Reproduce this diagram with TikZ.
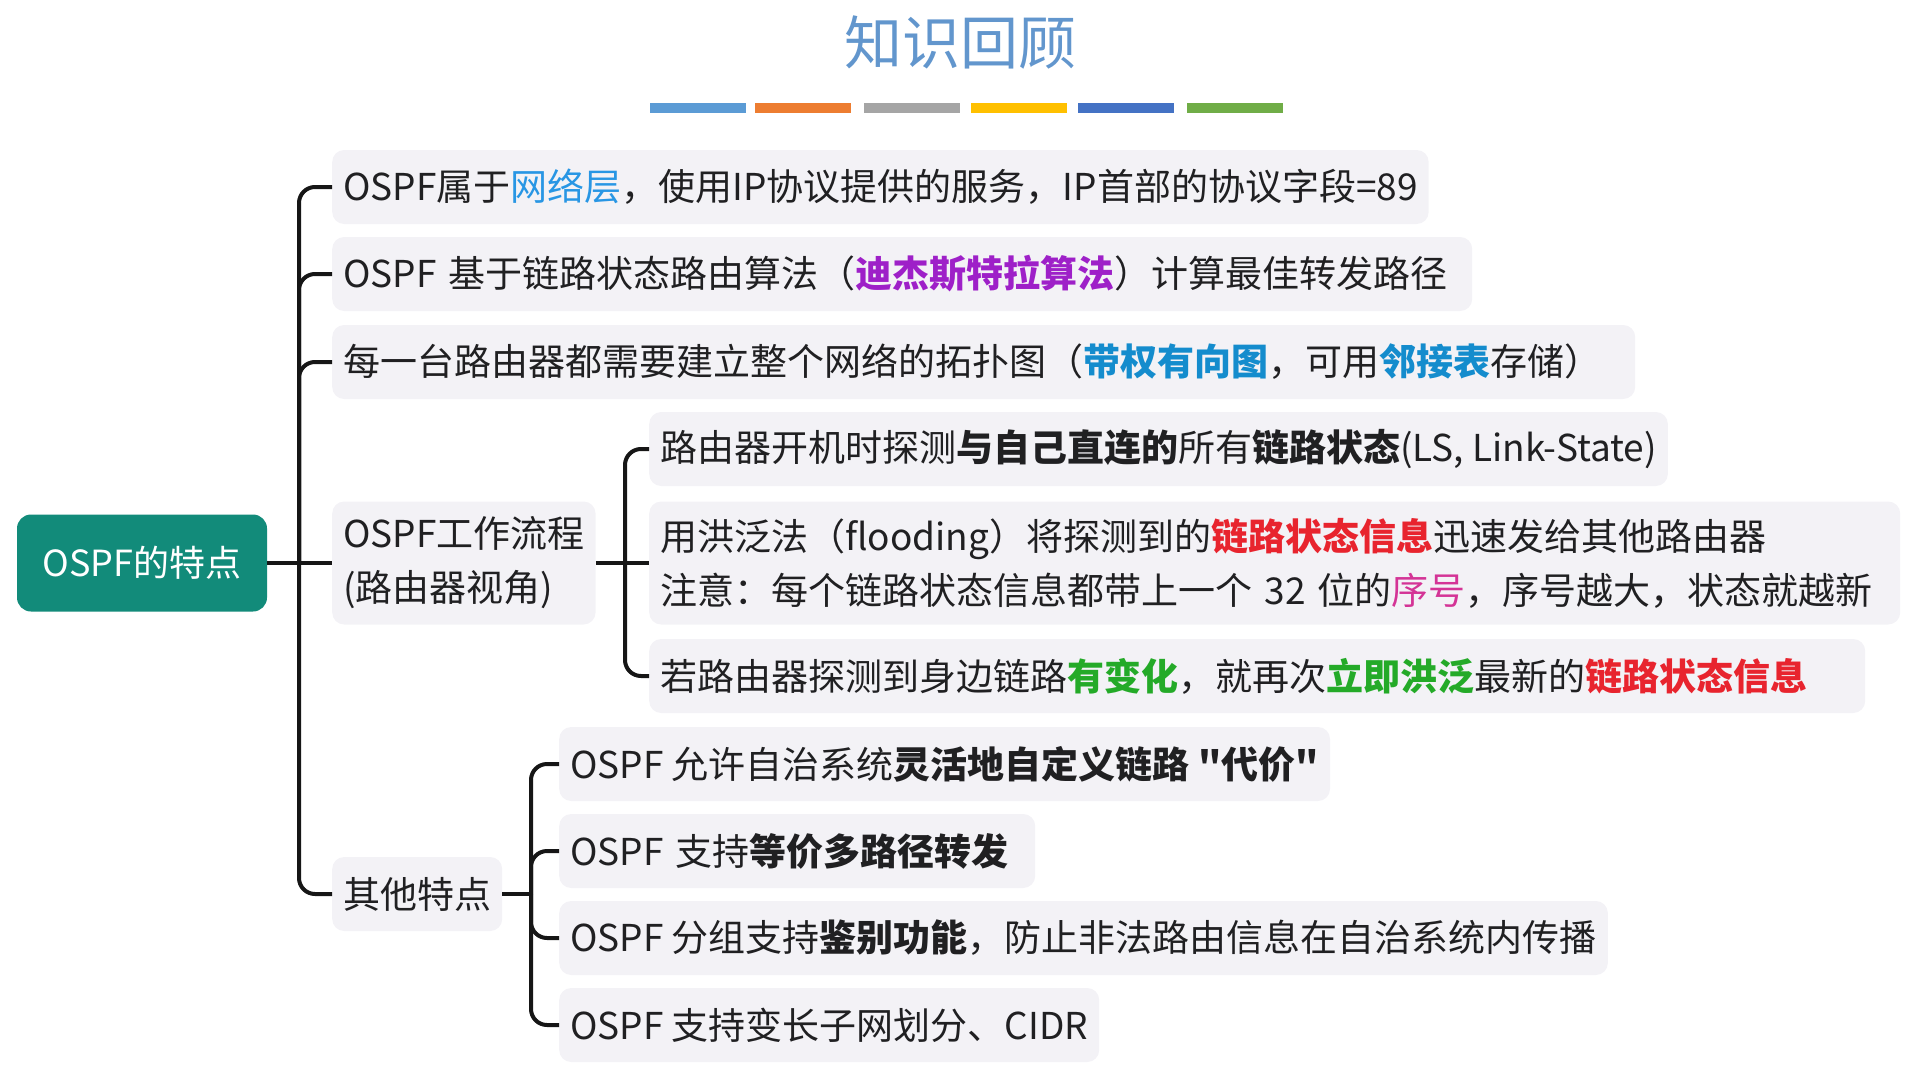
\documentclass[tikz,border=0pt]{standalone}
\usepackage{fontspec}
\setmainfont{Noto Sans CJK SC}[Ligatures=TeXOff]
\usetikzlibrary{positioning}

\definecolor{rootgreen}{RGB}{18,139,122}
\definecolor{boxgray}{RGB}{243,242,246}
\definecolor{textdark}{RGB}{32,32,34}
\definecolor{linedark}{RGB}{22,22,22}
\definecolor{titleblue}{RGB}{98,150,205}
\definecolor{netblue}{RGB}{40,150,228}
\definecolor{algpurple}{RGB}{158,32,200}
\definecolor{graphblue}{RGB}{20,140,205}
\definecolor{infored}{RGB}{232,36,46}
\definecolor{seqpink}{RGB}{212,52,150}
\definecolor{changegreen}{RGB}{36,170,40}
\definecolor{barA}{RGB}{91,155,213}
\definecolor{barB}{RGB}{237,125,49}
\definecolor{barC}{RGB}{165,165,165}
\definecolor{barD}{RGB}{255,192,0}
\definecolor{barE}{RGB}{68,114,196}
\definecolor{barF}{RGB}{112,173,71}

\begin{document}
\begin{tikzpicture}[x=1pt, y=-1pt,
    root/.style={rectangle, rounded corners=14pt, fill=rootgreen, text=white, minimum width=250pt, minimum height=97pt, font=\fontsize{36}{42}\selectfont},
    topic/.style={rectangle, rounded corners=12pt, fill=boxgray, text=textdark, anchor=west, inner xsep=11pt, minimum height=74pt, align=left, font=\fontsize{37}{54}\selectfont},
    branch/.style={draw=linedark, line width=4pt, rounded corners=16pt},
    bar/.style={rectangle, minimum width=96pt, minimum height=10pt, inner sep=0pt}]
    \useasboundingbox (0,0) rectangle (1928,1079);

    % Title
    \node[text=titleblue, font=\fontsize{58}{64}\selectfont] (title) at (960,43) {知识回顾};
    \node[bar, fill=barA] (bar1) at (698,108) {};
    \node[bar, fill=barB] (bar2) at (803,108) {};
    \node[bar, fill=barC] (bar3) at (912,108) {};
    \node[bar, fill=barD] (bar4) at (1019,108) {};
    \node[bar, fill=barE] (bar5) at (1126,108) {};
    \node[bar, fill=barF] (bar6) at (1235,108) {};

    % Draw nodes
    \node[root] (ospf) at (142,563) {OSPF的特点};

    \node[topic] (layer) at (332,187) {OSPF属于\textcolor{netblue}{网络层}，使用IP协议提供的服务，IP首部的协议字段=89};
    \node[topic, text width=1118pt] (algo) at (332,274) {OSPF 基于链路状态路由算法（\textcolor{algpurple}{\textbf{迪杰斯特拉算法}}）计算最佳转发路径};
    \node[topic, text width=1281pt] (topo) at (332,362) {每一台路由器都需要建立整个网络的拓扑图（\textcolor{graphblue}{\textbf{带权有向图}}，可用\textcolor{graphblue}{\textbf{邻接表}}存储）};
    \node[topic, minimum height=123pt] (flow) at (332,563) {OSPF工作流程\\(路由器视角)};
    \node[topic] (other) at (332,894) {其他特点};

    \node[topic] (probe) at (649,449) {路由器开机时探测\textbf{与自己直连的}所有\textbf{链路状态}(LS, Link-State)};
    \node[topic, minimum height=123pt, text width=1229pt] (flood) at (649,563) {用洪泛法（flooding）将探测到的\textcolor{infored}{\textbf{链路状态信息}}迅速发给其他路由器\\注意：每个链路状态信息都带上一个 32 位的\textcolor{seqpink}{序号}，序号越大，状态就越新};
    \node[topic, text width=1194pt] (change) at (649,676) {若路由器探测到身边链路\textcolor{changegreen}{\textbf{有变化}}，就再次\textcolor{changegreen}{\textbf{立即洪泛}}最新的\textcolor{infored}{\textbf{链路状态信息}}};

    \node[topic] (cost) at (559,764) {OSPF 允许自治系统\textbf{灵活地自定义链路~"代价"}};
    \node[topic, text width=454pt] (ecmp) at (559,851) {OSPF 支持\textbf{等价多路径转发}};
    \node[topic] (auth) at (559,938) {OSPF 分组支持\textbf{鉴别功能}，防止非法路由信息在自治系统内传播};
    \node[topic] (cidr) at (559,1025) {OSPF 支持变长子网划分、CIDR};

    % Draw connections
    \coordinate (spine) at (299,563);
    \coordinate (flowjoint) at (625,563);
    \coordinate (otherjoint) at (531,894);

    \draw[branch] (ospf.east) -- (flow.west);
    \draw[branch] (spine) |- (layer.west);
    \draw[branch] (spine) |- (algo.west);
    \draw[branch] (spine) |- (topo.west);
    \draw[branch] (spine) |- (other.west);

    \draw[branch] (flow.east) -- (flood.west);
    \draw[branch] (flowjoint) |- (probe.west);
    \draw[branch] (flowjoint) |- (change.west);

    \draw[branch] (other.east) -- (otherjoint);
    \draw[branch] (otherjoint) |- (cost.west);
    \draw[branch] (otherjoint) |- (ecmp.west);
    \draw[branch] (otherjoint) |- (auth.west);
    \draw[branch] (otherjoint) |- (cidr.west);
\end{tikzpicture}
\end{document}
